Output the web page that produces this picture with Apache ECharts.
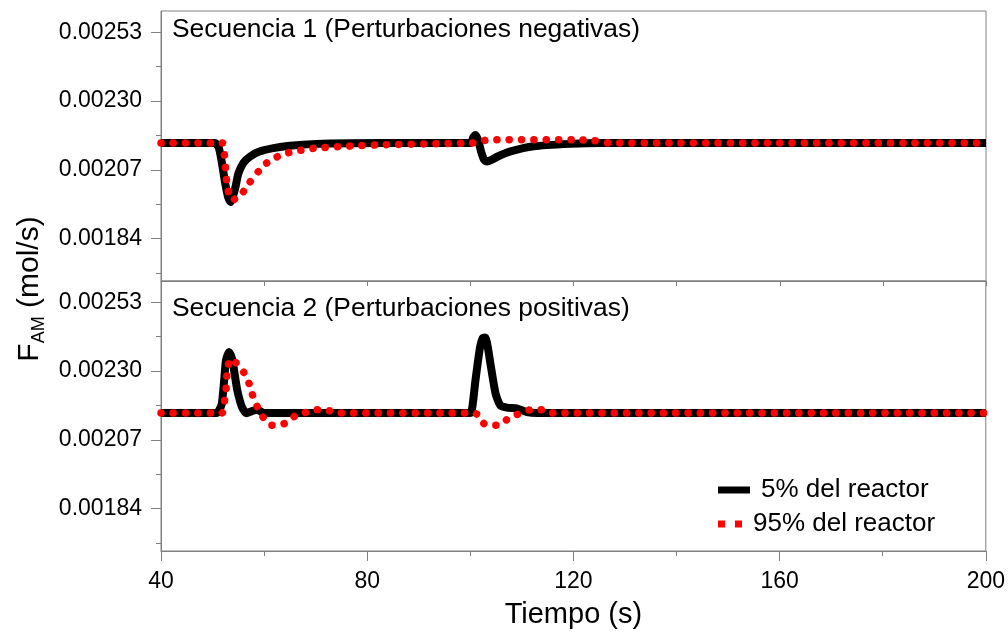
<!DOCTYPE html>
<html><head><meta charset="utf-8">
<script src="https://cdn.jsdelivr.net/npm/echarts@6/dist/echarts.min.js"></script>
<style>html,body{margin:0;padding:0;background:#fff}#c{width:1008px;height:639px}</style>
</head><body><div id="c"></div>
<script>
// ---- data ----
const seriesNames = ['5% del reactor', '95% del reactor'];
const panelTitles = ['Secuencia 1 (Perturbaciones negativas)', 'Secuencia 2 (Perturbaciones positivas)'];
const xTitle = 'Tiempo (s)';
const yTickLabels = ['0.00184', '0.00207', '0.00230', '0.00253'];
const yMinorTickValues = [0.001725, 0.001955, 0.002185, 0.002415];

// Secuencia 1 (negative perturbations) - 5% of reactor
const neg5Time  = [40, 50.5, 51.2, 51.8, 52.4, 53.0, 53.5, 54.0, 54.5, 55.0, 56.0, 57.3, 59.2, 61.8, 65.0, 70.2, 76.7, 89.6, 100.0, 100.6, 101.0, 101.5, 102.1, 102.7, 103.2, 104.2, 105.2, 107.8, 112.3, 119.4, 125.0, 200];
const neg5Value = [0.00216, 0.00216, 0.002145, 0.002095, 0.002030, 0.001980, 0.001963, 0.001985, 0.002017, 0.002058, 0.002094, 0.002115, 0.002132, 0.002143, 0.002151, 0.002157, 0.002159, 0.00216, 0.00216, 0.00218, 0.002187, 0.00217, 0.00213, 0.002103, 0.002098, 0.002104, 0.002114, 0.002132, 0.002149, 0.002157, 0.00216, 0.00216];
// Secuencia 1 - 95% of reactor
const neg95Time  = [40, 51.9, 52.3, 52.5, 52.7, 53.0, 53.7, 54.5, 55.3, 56.0, 57.1, 58.1, 59.2, 60.5, 62.1, 63.7, 65.8, 68.0, 70.0, 76.0, 83.2, 94.2, 100.5, 102.0, 103.5, 120.0, 124.0, 127.0, 200];
const neg95Value = [0.00216, 0.00216, 0.002121, 0.002077, 0.002037, 0.002002, 0.001968, 0.001974, 0.001981, 0.001998, 0.002026, 0.002048, 0.002071, 0.002093, 0.00211, 0.002123, 0.002132, 0.002138, 0.002143, 0.002149, 0.002154, 0.002158, 0.00216, 0.002165, 0.002171, 0.002171, 0.002168, 0.00216, 0.00216];
// Secuencia 2 (positive perturbations) - 5% of reactor
const pos5Time  = [40, 50.8, 51.3, 51.8, 52.25, 52.6, 53.2, 53.8, 54.2, 54.8, 55.7, 56.6, 57.6, 58.6, 60.0, 100.0, 100.4, 101.0, 101.9, 102.4, 102.9, 103.4, 103.9, 104.9, 105.8, 107.1, 109.0, 111.0, 113.0, 200];
const pos5Value = [0.00216, 0.00216, 0.00217, 0.002191, 0.002269, 0.002336, 0.002364, 0.00234, 0.0023, 0.002236, 0.00218, 0.002159, 0.002166, 0.002171, 0.00216, 0.00216, 0.00218, 0.002269, 0.002381, 0.00241, 0.002412, 0.00238, 0.002325, 0.002225, 0.002186, 0.002178, 0.002175, 0.002163, 0.00216, 0.00216];
// Secuencia 2 - 95% of reactor
const pos95Time  = [40, 51.8, 52.3, 52.6, 52.75, 52.9, 53.7, 55.0, 56.2, 57.1, 57.7, 58.4, 59.2, 60.2, 61.5, 62.9, 64.6, 66.0, 67.8, 69.6, 72.0, 73.8, 100.7, 101.6, 102.6, 103.4, 105.6, 107.1, 108.7, 110.3, 111.7, 114.0, 115.9, 200];
const pos95Value = [0.00216, 0.00216, 0.002197, 0.002236, 0.002275, 0.002314, 0.002342, 0.002319, 0.002292, 0.002258, 0.002223, 0.002191, 0.002163, 0.002136, 0.002119, 0.002119, 0.00213, 0.00215, 0.00216, 0.002171, 0.002171, 0.00216, 0.00216, 0.002152, 0.002125, 0.002119, 0.002119, 0.002138, 0.002152, 0.002163, 0.002171, 0.002171, 0.00216, 0.00216];

// ---- chart ----
const pairs = (t, v) => t.map((x, i) => [x, v[i]]);
const yTickValues = yTickLabels.map(Number);
const Y_MIN = 0.0016986, Y_MAX = 0.0026012;
const AXIS_COLOR = '#808080';
const FONT = 'Liberation Sans, Arial, sans-serif';

function yMain(grid) {
  return {
    type: 'value', gridIndex: grid, min: Y_MIN, max: Y_MAX, position: 'left',
    axisLine: { show: true, lineStyle: { color: AXIS_COLOR, width: 1 } },
    axisTick: { show: true, inside: false, length: 10, customValues: yTickValues, lineStyle: { color: AXIS_COLOR } },
    axisLabel: { show: true, customValues: yTickValues, margin: 19, fontSize: 23, color: '#000', fontFamily: FONT,
      formatter: v => v.toFixed(5) },
    splitLine: { show: false }
  };
}
function yMinor(grid) {
  return {
    type: 'value', gridIndex: grid, min: Y_MIN, max: Y_MAX, position: 'left', offset: 0,
    axisLine: { show: false },
    axisTick: { show: true, length: 5, customValues: yMinorTickValues, lineStyle: { color: AXIS_COLOR } },
    axisLabel: { show: false },
    splitLine: { show: false }
  };
}

const blackLine = { color: '#000', width: 8, join: 'round' };
const redDots = { color: '#ff0000', width: 7.5, type: [0.1, 12.2], cap: 'round' };

const option = {
  animation: false,
  backgroundColor: '#fff',
  grid: [
    { left: 161, right: 22, top: 11, height: 270, show: true, borderColor: AXIS_COLOR, borderWidth: 1, backgroundColor: 'transparent' },
    { left: 161, right: 22, top: 281, height: 270, show: true, borderColor: AXIS_COLOR, borderWidth: 1, backgroundColor: 'transparent' }
  ],
  title: [
    { text: panelTitles[0], left: 172, top: 17, padding: 0, textStyle: { fontSize: 26.4, fontWeight: 'normal', color: '#000', fontFamily: FONT } },
    { text: panelTitles[1], left: 172, top: 296, padding: 0, textStyle: { fontSize: 26.4, fontWeight: 'normal', color: '#000', fontFamily: FONT } }
  ],
  xAxis: [
    { type: 'value', gridIndex: 0, min: 40, max: 200, interval: 20,
      axisLine: { show: true, lineStyle: { color: AXIS_COLOR } },
      axisTick: { show: true, length: 5, lineStyle: { color: AXIS_COLOR } },
      axisLabel: { show: false }, splitLine: { show: false } },
    { type: 'value', gridIndex: 1, min: 40, max: 200, interval: 40,
      name: xTitle, nameLocation: 'middle', nameGap: 49,
      nameTextStyle: { fontSize: 29, color: '#000', fontFamily: FONT },
      axisLine: { show: true, lineStyle: { color: AXIS_COLOR } },
      axisTick: { show: true, length: 10, lineStyle: { color: AXIS_COLOR } },
      minorTick: { show: true, splitNumber: 2, length: 5, lineStyle: { color: AXIS_COLOR } },
      axisLabel: { show: true, margin: 19, fontSize: 23, color: '#000', fontFamily: FONT },
      splitLine: { show: false } }
  ],
  yAxis: [yMain(0), yMinor(0), yMain(1), yMinor(1)],
  legend: [
    { data: [{ name: seriesNames[0], icon: 'rect' }], left: 718, top: 477, padding: 0, orient: 'vertical',
      itemWidth: 32, itemHeight: 7, selectedMode: false,
      itemStyle: { color: '#000', borderWidth: 0 },
      textStyle: { fontSize: 26, color: '#000', fontFamily: FONT, padding: [5, 0, 0, 6] } },
    { data: [{ name: seriesNames[1], icon: 'path://M0,0h7v7h-7z M17,0h7v7h-7z' }], left: 718, top: 511, padding: 0, orient: 'vertical',
      itemWidth: 24, itemHeight: 7, selectedMode: false,
      itemStyle: { color: '#ff0000', borderWidth: 0 },
      textStyle: { fontSize: 26, color: '#000', fontFamily: FONT, padding: [3, 0, 0, 6] } }
  ],
  graphic: [
    { type: 'text', x: 30, y: 289, rotation: Math.PI / 2,
      style: { text: '{f|F}{s|AM}{f| (mol/s)}', align: 'center', verticalAlign: 'middle',
        rich: {
          f: { fontSize: 30, fontFamily: FONT, fill: '#000', lineHeight: 36, verticalAlign: 'middle' },
          s: { fontSize: 18, fontFamily: FONT, fill: '#000', lineHeight: 36, verticalAlign: 'bottom' }
        } } }
  ],
  series: [
    { name: seriesNames[0], type: 'line', xAxisIndex: 0, yAxisIndex: 0, data: pairs(neg5Time, neg5Value),
      showSymbol: false, symbol: 'none', smooth: 0.2, lineStyle: blackLine, itemStyle: { color: '#000' }, z: 2 },
    { name: seriesNames[1], type: 'line', xAxisIndex: 0, yAxisIndex: 0, data: pairs(neg95Time, neg95Value),
      showSymbol: false, symbol: 'none', smooth: 0.2, lineStyle: redDots, itemStyle: { color: '#ff0000' }, z: 3 },
    { name: seriesNames[0], type: 'line', xAxisIndex: 1, yAxisIndex: 2, data: pairs(pos5Time, pos5Value),
      showSymbol: false, symbol: 'none', smooth: 0.2, lineStyle: blackLine, itemStyle: { color: '#000' }, z: 2 },
    { name: seriesNames[1], type: 'line', xAxisIndex: 1, yAxisIndex: 2, data: pairs(pos95Time, pos95Value),
      showSymbol: false, symbol: 'none', smooth: 0.2, lineStyle: redDots, itemStyle: { color: '#ff0000' }, z: 3 }
  ]
};
const chart = echarts.init(document.getElementById('c'), null, { renderer: 'canvas' });
chart.setOption(option);
</script>
</body></html>
